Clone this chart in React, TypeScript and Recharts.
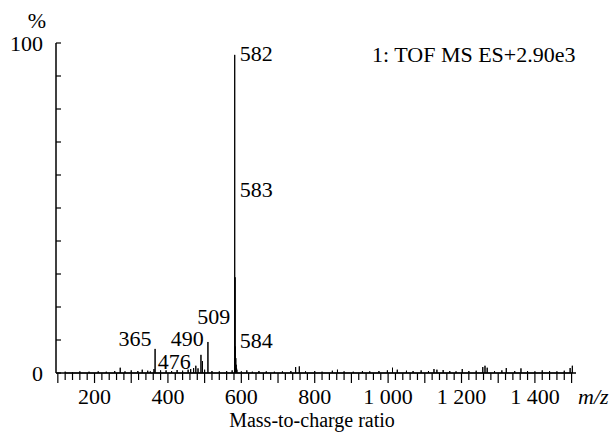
import { LineChart, Line, XAxis, YAxis, ReferenceDot } from "recharts";

// labelled peaks (m/z, relative intensity %)
const peakMz = [365, 476, 490, 494, 509, 582, 583, 584, 585, 586, 587, 588];
const peakPct = [7.3, 2.2, 5.5, 3.6, 9.4, 96.4, 29, 8, 4.5, 2.5, 1.5, 1];

// small baseline peaks
const noiseMz = [
  120, 140, 160, 185, 210, 232, 255, 270, 283, 300, 318, 330, 345, 352, 362,
  380, 395, 410, 425, 440, 455, 462, 470, 482, 500, 520, 540, 560, 575, 600,
  615, 630, 648, 668, 690, 712, 735, 748, 758, 775, 800, 820, 848, 862, 880,
  905, 930, 950, 975, 998, 1012, 1025, 1050, 1068, 1090, 1110, 1125, 1133,
  1150, 1168, 1185, 1202, 1220, 1240, 1258, 1264, 1270, 1290, 1310, 1322,
  1345, 1362, 1380, 1400, 1420, 1440, 1460, 1480, 1496, 1502
];
const noisePct = [
  0.4, 0.3, 0.5, 0.4, 0.5, 0.4, 0.6, 1.6, 0.5, 0.8, 0.6, 1.0, 0.7, 0.5, 1.2,
  0.8, 0.8, 0.6, 0.9, 0.7, 1.0, 1.2, 1.5, 1.4, 1.0, 0.6, 0.5, 0.6, 0.8, 0.5,
  0.8, 0.4, 0.6, 0.5, 0.4, 0.5, 0.6, 1.8, 2.0, 0.5, 0.6, 0.4, 0.7, 1.0, 0.5,
  0.4, 0.6, 0.5, 0.6, 0.8, 1.6, 1.0, 0.7, 0.6, 0.8, 0.6, 1.2, 1.0,
  0.9, 0.6, 0.5, 1.2, 0.6, 0.7, 1.8, 2.2, 1.6, 0.6, 0.8, 1.5,
  0.6, 1.4, 0.6, 0.5, 0.8, 0.6, 0.5, 0.7, 1.5, 2.2
];

// peak annotations: text, anchor m/z, anchor %
const labelText = ["582", "583", "584", "509", "365", "490", "476"];
const labelMz = [596, 596, 596, 480, 265, 408, 372];
const labelPct = [96.8, 55.5, 10, 17, 10.6, 10.6, 3.6];

const xMajorValues = [200, 400, 600, 800, 1000, 1200, 1400];
const xMajorLabels = ["200", "400", "600", "800", "1 000", "1 200", "1 400"];
const xMinorTicks = Array.from({ length: 71 }, (_, i) => 100 + i * 20);
const yTicks = [0, 10, 20, 30, 40, 50, 60, 70, 80, 90, 100];
const yLabels: Record<number, string> = { 0: "0", 100: "100" };

const FONT = "'Liberation Serif', 'Times New Roman', 'DejaVu Serif', serif";
const textStyle = { fontFamily: FONT, fontSize: 22 };

// stick spectrum: each peak goes up from the baseline and back down
const peaks = peakMz
  .map((mz, i) => ({ mz, pct: peakPct[i] }))
  .concat(noiseMz.map((mz, i) => ({ mz, pct: noisePct[i] })))
  .sort((a, b) => a.mz - b.mz);
const data = peaks.flatMap((p) => [
  { mz: p.mz, pct: 0 },
  { mz: p.mz, pct: p.pct },
  { mz: p.mz, pct: 0 }
]);
const labels = labelText.map((text, i) => ({ text, mz: labelMz[i], pct: labelPct[i] }));

function XTick(props: any) {
  const { x, y, payload } = props;
  const v = payload.value as number;
  const major = v % 100 === 0;
  const idx = xMajorValues.indexOf(v);
  return (
    <g>
      <line x1={x} x2={x} y1={y} y2={y + (major ? 10 : 7)} stroke="#000" strokeWidth={1.2} />
      {idx >= 0 && (
        <text x={x} y={y + 23} textAnchor="middle" dominantBaseline="central" style={textStyle} fill="#000">
          {xMajorLabels[idx]}
        </text>
      )}
    </g>
  );
}

function YTick(props: any) {
  const { x, y, payload } = props;
  const v = payload.value as number;
  return (
    <g>
      <line x1={x} x2={x + 5} y1={y} y2={y} stroke="#000" strokeWidth={1.2} />
      {yLabels[v] && (
        <text x={x - 13} y={y} textAnchor="end" dominantBaseline="central" style={textStyle} fill="#000">
          {yLabels[v]}
        </text>
      )}
    </g>
  );
}

export default function App() {
  return (
    <div style={{ position: "absolute", left: 0, top: 0, width: 615, height: 434, background: "#fff" }}>
      <LineChart width={615} height={434} data={data} margin={{ top: 43, right: 39, bottom: 0, left: 0 }}>
        <XAxis
          dataKey="mz"
          type="number"
          domain={[95, 1512]}
          ticks={xMinorTicks}
          interval={0}
          height={61}
          tickSize={0}
          tickMargin={0}
          tickLine={false}
          tick={<XTick />}
          axisLine={{ stroke: "#000", strokeWidth: 1.5 }}
          allowDataOverflow
        />
        <YAxis
          type="number"
          domain={[0, 100]}
          ticks={yTicks}
          interval={0}
          width={56}
          tickSize={0}
          tickMargin={0}
          tickLine={false}
          tick={<YTick />}
          axisLine={{ stroke: "#000", strokeWidth: 1.5 }}
        />
        <Line
          dataKey="pct"
          type="linear"
          stroke="#000"
          strokeWidth={1}
          dot={false}
          activeDot={false}
          isAnimationActive={false}
        />
        {labels.map((l) => (
          <ReferenceDot
            key={l.text}
            x={l.mz}
            y={l.pct}
            r={0}
            ifOverflow="visible"
            shape={(p: any) => (
              <text x={p.cx} y={p.cy} dominantBaseline="central" style={textStyle} fill="#000">
                {l.text}
              </text>
            )}
          />
        ))}
      </LineChart>
      <svg width={615} height={434} style={{ position: "absolute", left: 0, top: 0, pointerEvents: "none" }}>
        <g style={textStyle} fill="#000" dominantBaseline="central">
          <text x={37} y={20} textAnchor="middle">%</text>
          <text x={372} y={54}>1: TOF MS ES+2.90e3</text>
          <text x={312} y={420} textAnchor="middle" style={{ fontFamily: FONT, fontSize: 20 }}>
            Mass-to-charge ratio
          </text>
          <text x={578} y={396} fontStyle="italic">m/z</text>
        </g>
      </svg>
    </div>
  );
}
